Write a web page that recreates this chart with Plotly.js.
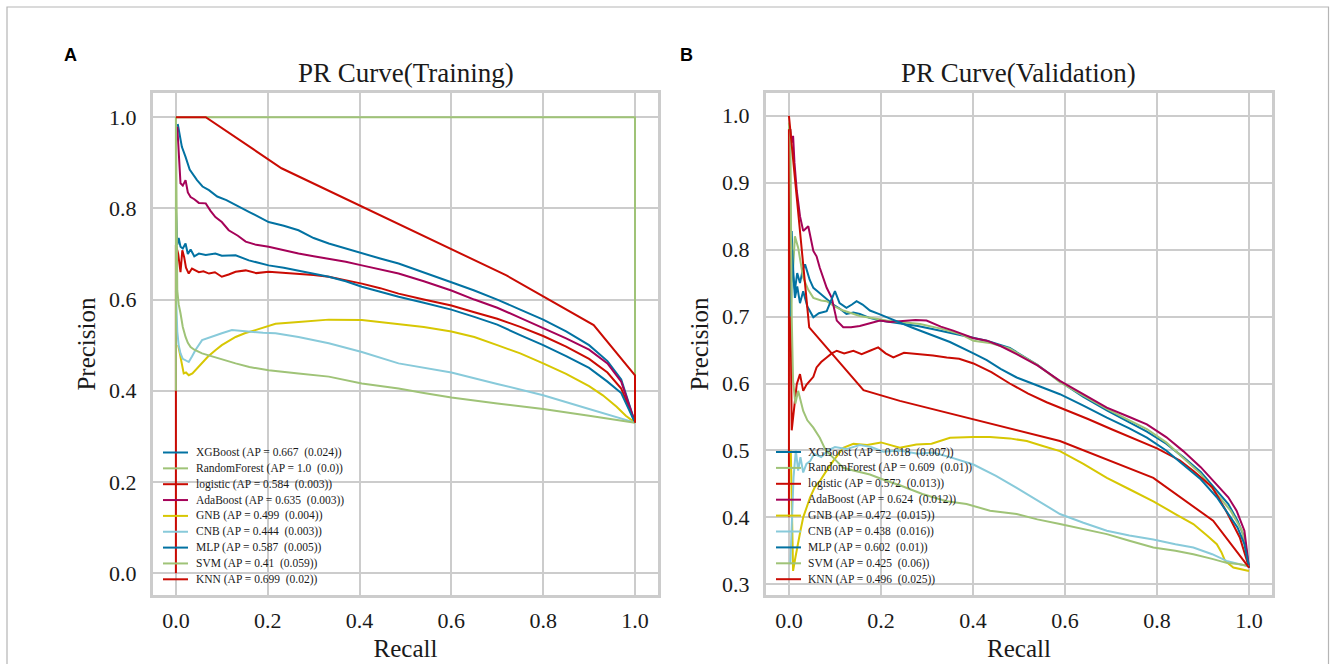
<!DOCTYPE html>
<html>
<head>
<meta charset="utf-8">
<script src="https://cdn.plot.ly/plotly-3.0.1.min.js"></script>
<style>html,body{margin:0;padding:0;background:#fff;}#chart{width:1330px;height:664px;}</style>
</head>
<body>
<div id="chart"></div>
<script>
// ---------- Training panel (A) ----------
const trainXgbX = [0.004,0.008,0.013,0.021,0.03,0.046,0.058,0.072,0.09,0.11,0.13,0.16,0.202,0.235,0.267,0.3,0.333,0.37,0.405,0.445,0.485,0.54,0.6,0.65,0.7,0.75,0.8,0.85,0.9,0.94,0.97,1.0];
const trainXgbY = [0.985,0.965,0.935,0.913,0.885,0.862,0.848,0.84,0.826,0.818,0.807,0.792,0.77,0.762,0.752,0.735,0.723,0.712,0.701,0.69,0.679,0.66,0.638,0.62,0.6,0.578,0.556,0.53,0.5,0.465,0.425,0.33];
const trainRfX = [0.0,1.0,1.0];
const trainRfY = [1.0,1.0,0.33];
const trainLogX = [0,0,0.005,0.01,0.014,0.018,0.022,0.028,0.035,0.043,0.05,0.06,0.072,0.085,0.1,0.115,0.13,0.152,0.175,0.202,0.235,0.267,0.3,0.333,0.37,0.405,0.445,0.485,0.54,0.6,0.65,0.7,0.75,0.8,0.85,0.9,0.94,0.97,1.0];
const trainLogY = [0,0.72,0.7,0.66,0.708,0.693,0.67,0.657,0.668,0.664,0.66,0.662,0.657,0.66,0.65,0.655,0.661,0.664,0.658,0.661,0.659,0.657,0.654,0.65,0.643,0.635,0.625,0.613,0.6,0.587,0.572,0.558,0.54,0.52,0.497,0.47,0.44,0.405,0.33];
const trainAdaX = [0.003,0.006,0.01,0.015,0.021,0.026,0.032,0.04,0.05,0.065,0.075,0.086,0.1,0.115,0.135,0.152,0.175,0.202,0.235,0.267,0.3,0.333,0.37,0.405,0.445,0.485,0.54,0.6,0.65,0.7,0.75,0.8,0.85,0.9,0.94,0.97,1.0];
const trainAdaY = [0.979,0.92,0.855,0.85,0.862,0.835,0.825,0.82,0.812,0.811,0.795,0.781,0.77,0.752,0.74,0.727,0.72,0.716,0.708,0.701,0.695,0.69,0.683,0.675,0.666,0.657,0.64,0.62,0.6,0.582,0.56,0.537,0.515,0.49,0.46,0.42,0.33];
const trainGnbX = [0.005,0.01,0.014,0.017,0.022,0.028,0.036,0.045,0.057,0.07,0.086,0.1,0.13,0.15,0.173,0.217,0.267,0.333,0.405,0.485,0.54,0.6,0.65,0.7,0.75,0.8,0.85,0.9,0.93,0.96,0.98,1.0];
const trainGnbY = [0.5,0.474,0.45,0.438,0.44,0.434,0.438,0.448,0.46,0.475,0.489,0.5,0.518,0.526,0.533,0.547,0.551,0.556,0.555,0.547,0.54,0.53,0.518,0.5,0.482,0.46,0.437,0.41,0.39,0.365,0.345,0.33];
const trainCnbX = [0.0,0.003,0.006,0.01,0.015,0.021,0.028,0.035,0.043,0.057,0.07,0.086,0.1,0.122,0.159,0.19,0.217,0.267,0.333,0.405,0.485,0.54,0.6,0.7,0.8,0.9,0.95,1.0];
const trainCnbY = [0.62,0.53,0.5,0.482,0.47,0.467,0.463,0.475,0.49,0.511,0.516,0.522,0.526,0.533,0.529,0.527,0.526,0.518,0.504,0.485,0.46,0.45,0.44,0.415,0.39,0.36,0.345,0.33];
const trainMlpX = [0.0,0.003,0.006,0.01,0.015,0.021,0.026,0.032,0.04,0.05,0.065,0.086,0.1,0.13,0.159,0.18,0.202,0.235,0.267,0.3,0.333,0.37,0.405,0.445,0.485,0.54,0.6,0.65,0.7,0.75,0.8,0.85,0.9,0.94,0.97,1.0];
const trainMlpY = [0.8,0.72,0.735,0.716,0.712,0.723,0.7,0.71,0.695,0.701,0.698,0.701,0.696,0.697,0.686,0.681,0.675,0.67,0.664,0.657,0.65,0.64,0.628,0.617,0.606,0.593,0.578,0.562,0.545,0.522,0.5,0.476,0.45,0.42,0.395,0.33];
const trainSvmX = [0,0,0.003,0.006,0.01,0.015,0.021,0.026,0.032,0.04,0.057,0.07,0.086,0.1,0.13,0.16,0.202,0.267,0.333,0.405,0.485,0.54,0.6,0.7,0.8,0.9,1.0];
const trainSvmY = [0.4,1.0,0.62,0.59,0.57,0.54,0.518,0.505,0.496,0.49,0.482,0.478,0.474,0.468,0.46,0.452,0.445,0.438,0.431,0.416,0.405,0.395,0.385,0.372,0.36,0.345,0.33];
const trainKnnX = [0,0.065,0.23,0.72,0.91,1.0,1.0];
const trainKnnY = [1.0,1.0,0.888,0.653,0.544,0.434,0.33];

// ---------- Validation panel (B) ----------
const valXgbX = [0.004,0.006,0.009,0.013,0.018,0.024,0.03,0.035,0.045,0.053,0.062,0.071,0.083,0.096,0.11,0.125,0.14,0.154,0.175,0.198,0.22,0.248,0.28,0.314,0.35,0.386,0.43,0.48,0.54,0.589,0.64,0.691,0.74,0.778,0.82,0.857,0.895,0.93,0.955,0.975,0.99,1.0];
const valXgbY = [0.72,0.828,0.76,0.74,0.765,0.75,0.77,0.778,0.755,0.743,0.738,0.733,0.725,0.718,0.712,0.704,0.706,0.704,0.698,0.694,0.692,0.689,0.686,0.681,0.676,0.671,0.664,0.653,0.628,0.603,0.58,0.56,0.542,0.528,0.51,0.49,0.468,0.44,0.42,0.395,0.37,0.325];
const valRfX = [0,0.004,0.008,0.013,0.02,0.031,0.042,0.053,0.07,0.082,0.1,0.118,0.154,0.212,0.285,0.33,0.372,0.401,0.44,0.48,0.54,0.589,0.64,0.691,0.74,0.778,0.82,0.857,0.895,0.93,0.96,0.985,1.0];
const valRfY = [0.99,0.82,0.76,0.82,0.803,0.758,0.74,0.728,0.724,0.723,0.715,0.709,0.701,0.694,0.689,0.682,0.674,0.664,0.66,0.652,0.628,0.602,0.582,0.562,0.545,0.532,0.512,0.489,0.465,0.435,0.41,0.38,0.325];
const valLogX = [0,0,0.006,0.012,0.017,0.024,0.031,0.038,0.046,0.053,0.06,0.07,0.082,0.093,0.104,0.12,0.14,0.158,0.176,0.194,0.21,0.227,0.25,0.285,0.313,0.343,0.37,0.401,0.44,0.48,0.52,0.56,0.6,0.65,0.7,0.75,0.8,0.85,0.88,0.92,0.95,0.98,1.0];
const valLogY = [0.4,0.98,0.53,0.57,0.599,0.614,0.589,0.598,0.604,0.61,0.624,0.632,0.639,0.645,0.649,0.645,0.649,0.644,0.649,0.654,0.645,0.639,0.646,0.644,0.642,0.639,0.637,0.63,0.617,0.6,0.585,0.572,0.561,0.547,0.532,0.518,0.503,0.485,0.469,0.445,0.41,0.37,0.325];
const valAdaX = [0.003,0.006,0.009,0.012,0.017,0.024,0.031,0.042,0.053,0.06,0.067,0.075,0.082,0.093,0.104,0.118,0.135,0.154,0.175,0.198,0.22,0.248,0.275,0.299,0.33,0.357,0.4,0.43,0.46,0.495,0.54,0.589,0.64,0.691,0.74,0.778,0.82,0.857,0.895,0.93,0.955,0.973,0.99,1.0];
const valAdaY = [0.98,0.96,0.97,0.93,0.888,0.85,0.828,0.835,0.798,0.79,0.773,0.758,0.743,0.728,0.694,0.684,0.684,0.686,0.69,0.694,0.692,0.694,0.695,0.694,0.685,0.679,0.668,0.664,0.656,0.644,0.627,0.604,0.584,0.564,0.55,0.539,0.52,0.499,0.475,0.449,0.43,0.41,0.38,0.325];
const valGnbX = [0.004,0.009,0.014,0.02,0.025,0.031,0.038,0.046,0.056,0.067,0.08,0.096,0.118,0.14,0.17,0.2,0.241,0.277,0.31,0.35,0.4,0.437,0.48,0.517,0.55,0.589,0.64,0.691,0.74,0.792,0.84,0.879,0.91,0.93,0.94,0.948,0.966,0.985,1.0];
const valGnbY = [0.5,0.32,0.34,0.365,0.38,0.4,0.415,0.43,0.445,0.454,0.468,0.484,0.504,0.51,0.508,0.512,0.504,0.509,0.51,0.519,0.52,0.52,0.518,0.514,0.507,0.499,0.48,0.459,0.442,0.424,0.405,0.39,0.372,0.36,0.348,0.335,0.325,0.322,0.32];
const valCnbX = [0.003,0.006,0.01,0.015,0.02,0.025,0.031,0.038,0.046,0.055,0.07,0.085,0.1,0.125,0.154,0.18,0.205,0.241,0.28,0.313,0.35,0.401,0.45,0.495,0.54,0.589,0.64,0.691,0.74,0.792,0.84,0.879,0.92,0.951,0.98,1.0];
const valCnbY = [0.33,0.4,0.46,0.5,0.47,0.49,0.467,0.48,0.484,0.495,0.49,0.5,0.505,0.502,0.508,0.505,0.498,0.5,0.495,0.497,0.49,0.479,0.462,0.444,0.425,0.405,0.392,0.38,0.373,0.367,0.36,0.355,0.345,0.335,0.33,0.327];
const valMlpX = [0.004,0.007,0.01,0.013,0.018,0.024,0.031,0.04,0.053,0.065,0.082,0.092,0.1,0.11,0.125,0.137,0.147,0.16,0.176,0.195,0.212,0.241,0.27,0.3,0.35,0.401,0.43,0.46,0.495,0.54,0.589,0.64,0.691,0.74,0.778,0.82,0.857,0.895,0.93,0.955,0.975,0.99,1.0];
const valMlpY = [0.7,0.8,0.76,0.728,0.745,0.72,0.738,0.715,0.699,0.705,0.708,0.725,0.738,0.72,0.713,0.718,0.723,0.718,0.709,0.704,0.699,0.691,0.683,0.675,0.662,0.645,0.635,0.622,0.609,0.597,0.584,0.567,0.549,0.533,0.519,0.5,0.479,0.457,0.43,0.405,0.385,0.36,0.325];
const valSvmX = [0.003,0.006,0.009,0.014,0.02,0.026,0.031,0.04,0.053,0.067,0.08,0.095,0.118,0.14,0.176,0.21,0.241,0.29,0.343,0.386,0.437,0.495,0.54,0.589,0.64,0.691,0.74,0.792,0.84,0.879,0.92,0.951,0.98,1.0];
const valSvmY = [0.98,0.7,0.604,0.57,0.589,0.57,0.559,0.545,0.534,0.519,0.5,0.49,0.474,0.47,0.464,0.455,0.448,0.435,0.424,0.42,0.41,0.405,0.397,0.39,0.382,0.375,0.365,0.355,0.35,0.345,0.338,0.332,0.33,0.327];
const valKnnX = [0,0.044,0.162,0.241,0.589,0.792,0.922,1.0];
const valKnnY = [1.0,0.684,0.59,0.574,0.514,0.459,0.395,0.325];

// ---------- Legend labels & ticks ----------
const trainLabels = ["XGBoost (AP = 0.667  (0.024))","RandomForest (AP = 1.0  (0.0))","logistic (AP = 0.584  (0.003))","AdaBoost (AP = 0.635  (0.003))","GNB (AP = 0.499  (0.004))","CNB (AP = 0.444  (0.003))","MLP (AP = 0.587  (0.005))","SVM (AP = 0.41  (0.059))","KNN (AP = 0.699  (0.02))"];
const valLabels = ["XGBoost (AP = 0.618  (0.007))","RandomForest (AP = 0.609  (0.01))","logistic (AP = 0.572  (0.013))","AdaBoost (AP = 0.624  (0.012))","GNB (AP = 0.472  (0.015))","CNB (AP = 0.438  (0.016))","MLP (AP = 0.602  (0.01))","SVM (AP = 0.425  (0.06))","KNN (AP = 0.496  (0.025))"];
const xTicks = [0.0,0.2,0.4,0.6,0.8,1.0];
const yTicksTrain = [0.0,0.2,0.4,0.6,0.8,1.0];
const yTicksVal = [0.3,0.4,0.5,0.6,0.7,0.8,0.9,1.0];

const colors = ['#0272a2','#9fc377','#ca0b03','#a50258','#d7c703','#88cada','#0272a2','#9fc377','#ca0b03'];
const trainSeries = [[trainXgbX,trainXgbY],[trainRfX,trainRfY],[trainLogX,trainLogY],[trainAdaX,trainAdaY],[trainGnbX,trainGnbY],[trainCnbX,trainCnbY],[trainMlpX,trainMlpY],[trainSvmX,trainSvmY],[trainKnnX,trainKnnY]];
const valSeries = [[valXgbX,valXgbY],[valRfX,valRfY],[valLogX,valLogY],[valAdaX,valAdaY],[valGnbX,valGnbY],[valCnbX,valCnbY],[valMlpX,valMlpY],[valSvmX,valSvmY],[valKnnX,valKnnY]];

const traces = [];
trainSeries.forEach((s,i)=>traces.push({x:s[0],y:s[1],type:'scatter',mode:'lines',name:trainLabels[i],line:{color:colors[i],width:2},xaxis:'x',yaxis:'y',showlegend:false}));
valSeries.forEach((s,i)=>traces.push({x:s[0],y:s[1],type:'scatter',mode:'lines',name:valLabels[i],line:{color:colors[i],width:2},xaxis:'x2',yaxis:'y2',showlegend:false}));

const W = 1330, H = 664;
const serif = 'Liberation Serif, Times New Roman, serif';
const ink = '#1a1a1a';
const tickFont = {family:serif,size:22,color:ink};
const axTitleFont = {family:serif,size:25,color:ink};
const plotTitleFont = {family:serif,size:27,color:ink};
const axCommon = {showgrid:true,gridcolor:'#cccccc',gridwidth:2,showline:true,mirror:true,linecolor:'#cccccc',linewidth:3,zeroline:false,ticks:'',tickfont:tickFont,automargin:false};

const annotations = [
  {text:'PR Curve(Training)',xref:'paper',yref:'paper',x:0.305,y:1-73/H,showarrow:false,font:plotTitleFont,xanchor:'center',yanchor:'middle'},
  {text:'PR Curve(Validation)',xref:'paper',yref:'paper',x:0.766,y:1-73/H,showarrow:false,font:plotTitleFont,xanchor:'center',yanchor:'middle'},
  {text:'<b>A</b>',xref:'paper',yref:'paper',x:70/W,y:1-55/H,showarrow:false,font:{family:'Liberation Sans, Arial, sans-serif',size:18,color:'#000'},xanchor:'center',yanchor:'middle'},
  {text:'<b>B</b>',xref:'paper',yref:'paper',x:686/W,y:1-55/H,showarrow:false,font:{family:'Liberation Sans, Arial, sans-serif',size:18,color:'#000'},xanchor:'center',yanchor:'middle'}
];
const shapes = [
  {type:'rect',xref:'paper',yref:'paper',x0:7/W,x1:1328.5/W,y0:-0.05,y1:1-7/H,line:{color:'#b5b5b5',width:1.2},fillcolor:'rgba(0,0,0,0)'}
];

// legend boxes (matplotlib-style compact legend, 16px rows)
function addLegend(labels, lineX0, lineX1, textX, firstY, rowH){
  labels.forEach((lab,i)=>{
    const yy = firstY + i*rowH;
    shapes.push({type:'line',xref:'paper',yref:'paper',x0:lineX0/W,x1:lineX1/W,y0:1-yy/H,y1:1-yy/H,line:{color:colors[i],width:2}});
    annotations.push({text:lab.replace(/  /g,' \u00a0'),xref:'paper',yref:'paper',x:textX/W,y:1-yy/H,showarrow:false,xanchor:'left',yanchor:'middle',font:{family:serif,size:11.5,color:ink}});
  });
}
addLegend(trainLabels,163,188,194,452.5,15.85);
addLegend(valLabels,776,801,806,452,15.9);

const layout = {
  width:W,height:H,margin:{l:0,r:0,t:0,b:0},
  paper_bgcolor:'#fff',plot_bgcolor:'#fff',
  showlegend:false,
  xaxis:Object.assign({},axCommon,{domain:[0.1150,0.4947],range:[-0.05,1.05],tickvals:xTicks,tickformat:'.1f',ticklabelstandoff:4,title:{text:'Recall',font:axTitleFont,standoff:8},anchor:'y'}),
  yaxis:Object.assign({},axCommon,{domain:[0.1039,0.8599],range:[-0.048,1.053],tickvals:yTicksTrain,tickformat:'.1f',ticklabelstandoff:9,title:{text:'Precision',font:axTitleFont,standoff:7},anchor:'x'}),
  xaxis2:Object.assign({},axCommon,{domain:[0.5759,0.9564],range:[-0.05,1.05],tickvals:xTicks,tickformat:'.1f',ticklabelstandoff:4,title:{text:'Recall',font:axTitleFont,standoff:8},anchor:'y2'}),
  yaxis2:Object.assign({},axCommon,{domain:[0.1039,0.8599],range:[0.284,1.034],tickvals:yTicksVal,tickformat:'.1f',ticklabelstandoff:9,title:{text:'Precision',font:axTitleFont,standoff:7},anchor:'x2'}),
  annotations:annotations,
  shapes:shapes
};

Plotly.newPlot('chart',traces,layout,{displayModeBar:false,staticPlot:true});
</script>
</body>
</html>
